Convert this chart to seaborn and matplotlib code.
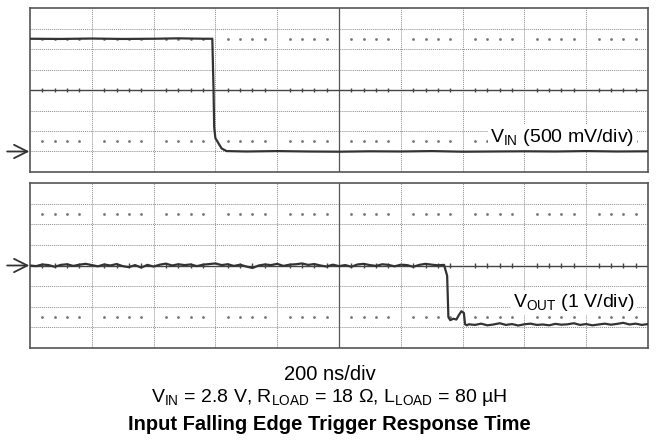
import numpy as np
import pandas as pd
import matplotlib
matplotlib.use("Agg")
import matplotlib.pyplot as plt
import seaborn as sns

# ---- data (time in divisions of 200 ns, voltage in screen divisions) ----
t_in = [0.0, 0.5, 1.0, 1.5, 2.0, 2.4, 2.8, 2.95, 2.97, 2.98, 3.0, 3.05, 3.1, 3.18,
        3.5, 4.0, 4.5, 5.0, 5.5, 6.0, 6.5, 7.0, 7.5, 8.0, 8.5, 9.0, 9.5, 10.0]
v_in = [2.5, 2.49, 2.51, 2.49, 2.5, 2.52, 2.5, 2.5, 0.0, -1.8, -2.35, -2.6, -2.85, -2.98,
        -3.0, -2.98, -3.0, -3.01, -2.99, -3.0, -2.98, -3.01, -3.0, -2.99, -3.0, -2.98, -3.0, -2.99]

# V_OUT flat part, sampled every 0.1 div from 0 to 6.7
v_out_flat = [0.0, -0.03, 0.05, 0.02, -0.06, 0.03, 0.06, -0.02, 0.04, 0.08,
              0.02, -0.04, 0.05, 0.0, 0.07, -0.03, -0.08, 0.02, -0.1, 0.03,
              -0.05, 0.04, 0.09, 0.0, 0.06, 0.02, 0.05, -0.03, 0.04, 0.07,
              0.1, 0.02, 0.06, -0.02, 0.04, -0.05, -0.12, 0.0, 0.05, 0.02,
              0.08, -0.02, 0.04, 0.06, 0.1, 0.03, 0.07, 0.0, -0.05, 0.04,
              -0.03, 0.02, -0.06, 0.05, 0.08, 0.02, -0.02, 0.06, 0.03, -0.04,
              0.04, 0.02, -0.06, 0.03, 0.08, 0.04, 0.01, 0.03]
t_out_edge = [6.75, 6.77, 6.8, 6.85, 6.9, 6.94, 6.98, 7.02, 7.04, 7.07]
v_out_edge = [-0.5, -2.5, -2.65, -2.58, -2.62, -2.4, -2.22, -2.3, -2.85, -2.9]
# V_OUT settled part, every 0.1 div from 7.1 to 10.0
v_out_tail = [-2.85, -2.88, -2.82, -2.9, -2.86, -2.8, -2.88, -2.84, -2.91, -2.85,
              -2.82, -2.88, -2.86, -2.9, -2.83, -2.87, -2.85, -2.8, -2.88, -2.84,
              -2.9, -2.86, -2.82, -2.87, -2.83, -2.78, -2.86, -2.82, -2.88, -2.84]

t_out = [round(0.1 * i, 2) for i in range(len(v_out_flat))] + t_out_edge + \
        [round(7.1 + 0.1 * i, 2) for i in range(len(v_out_tail))]
v_out = v_out_flat + v_out_edge + v_out_tail

labels = [r"V$_{\mathrm{IN}}$ (500 mV/div)", r"V$_{\mathrm{OUT}}$ (1 V/div)"]
ground_levels = [-3.0, 0.0]
label_y = [-2.3, -1.8]

time_scale = "200 ns/div"
conditions = (r"V$_{\mathrm{IN}}$ = 2.8 V, R$_{\mathrm{LOAD}}$ = 18 Ω, "
              r"L$_{\mathrm{LOAD}}$ = 80 µH")
title = "Input Falling Edge Trigger Response Time"

sns.set_theme(style="white")
plt.rcParams['font.family'] = ['Liberation Sans', 'DejaVu Sans']
plt.rcParams['mathtext.fontset'] = 'custom'
plt.rcParams['mathtext.rm'] = 'Liberation Sans'
plt.rcParams['mathtext.it'] = 'Liberation Sans:italic'
plt.rcParams['text.color'] = 'black'

fig = plt.figure(figsize=(6.59, 4.45), dpi=100)
ax_top = fig.add_axes([30 / 659, 1 - 172 / 445, 618 / 659, 164 / 445])
ax_bot = fig.add_axes([30 / 659, 1 - 348 / 445, 618 / 659, 165 / 445])

df_in = pd.DataFrame({"t": t_in, "v": v_in})
df_out = pd.DataFrame({"t": t_out, "v": v_out})

grid_col = "#8c8c8c"
trace_col = "#333333"

for ax, df, lab, g, ly in zip([ax_top, ax_bot], [df_in, df_out], labels,
                              ground_levels, label_y):
    ax.set_xlim(0, 10)
    ax.set_ylim(-4, 4)
    ax.set_xticks([])
    ax.set_yticks([])
    for s in ax.spines.values():
        s.set_color("#555555")
        s.set_linewidth(1.2)
    # graticule
    for x in range(1, 10):
        if x == 5:
            ax.axvline(x, color="#555555", lw=0.9, zorder=1)
        else:
            ax.axvline(x, color=grid_col, lw=0.7, ls=(0, (1, 1)), zorder=1)
    for y in range(-3, 4):
        if y == 0:
            ax.axhline(y, color="#444444", lw=1.0, zorder=1)
        else:
            ax.axhline(y, color=grid_col, lw=0.7, ls=(0, (1, 1)), zorder=1)
    # minor ticks on centre line
    sub = np.arange(0.2, 10, 0.2)
    sub = sub[np.abs(sub - np.round(sub)) > 0.05]
    ax.vlines(sub, -0.12, 0.12, color="#444444", lw=1.0, zorder=1)
    # dot rows
    for y in (2.5, -2.5):
        ax.scatter(sub, np.full(len(sub), y), s=1.0, color="#777777", zorder=1)
    sns.lineplot(data=df, x="t", y="v", ax=ax, color=trace_col, lw=1.6,
                 zorder=3, estimator=None, sort=False)
    ax.set_xlabel("")
    ax.set_ylabel("")
    ax.text(9.78, ly, lab, ha="right", va="center", fontsize=14, zorder=4,
            color="black",
            bbox=dict(facecolor="white", edgecolor="none", pad=1.5))
    ax.annotate("", xy=(-0.001, g), xytext=(-0.037, g),
                xycoords=("axes fraction", "data"),
                textcoords=("axes fraction", "data"),
                arrowprops=dict(arrowstyle="->", color="#333333", lw=1.3,
                                mutation_scale=24, shrinkA=0, shrinkB=0),
                annotation_clip=False)

fig.text(0.5, 1 - 375 / 445, time_scale, ha="center", va="center", fontsize=14.5)
fig.text(0.5, 1 - 398 / 445, conditions, ha="center", va="center", fontsize=14)
fig.text(0.5, 1 - 424 / 445, title, ha="center", va="center", fontsize=14.5,
         fontweight="bold")

fig.savefig("out.png", dpi=100)
